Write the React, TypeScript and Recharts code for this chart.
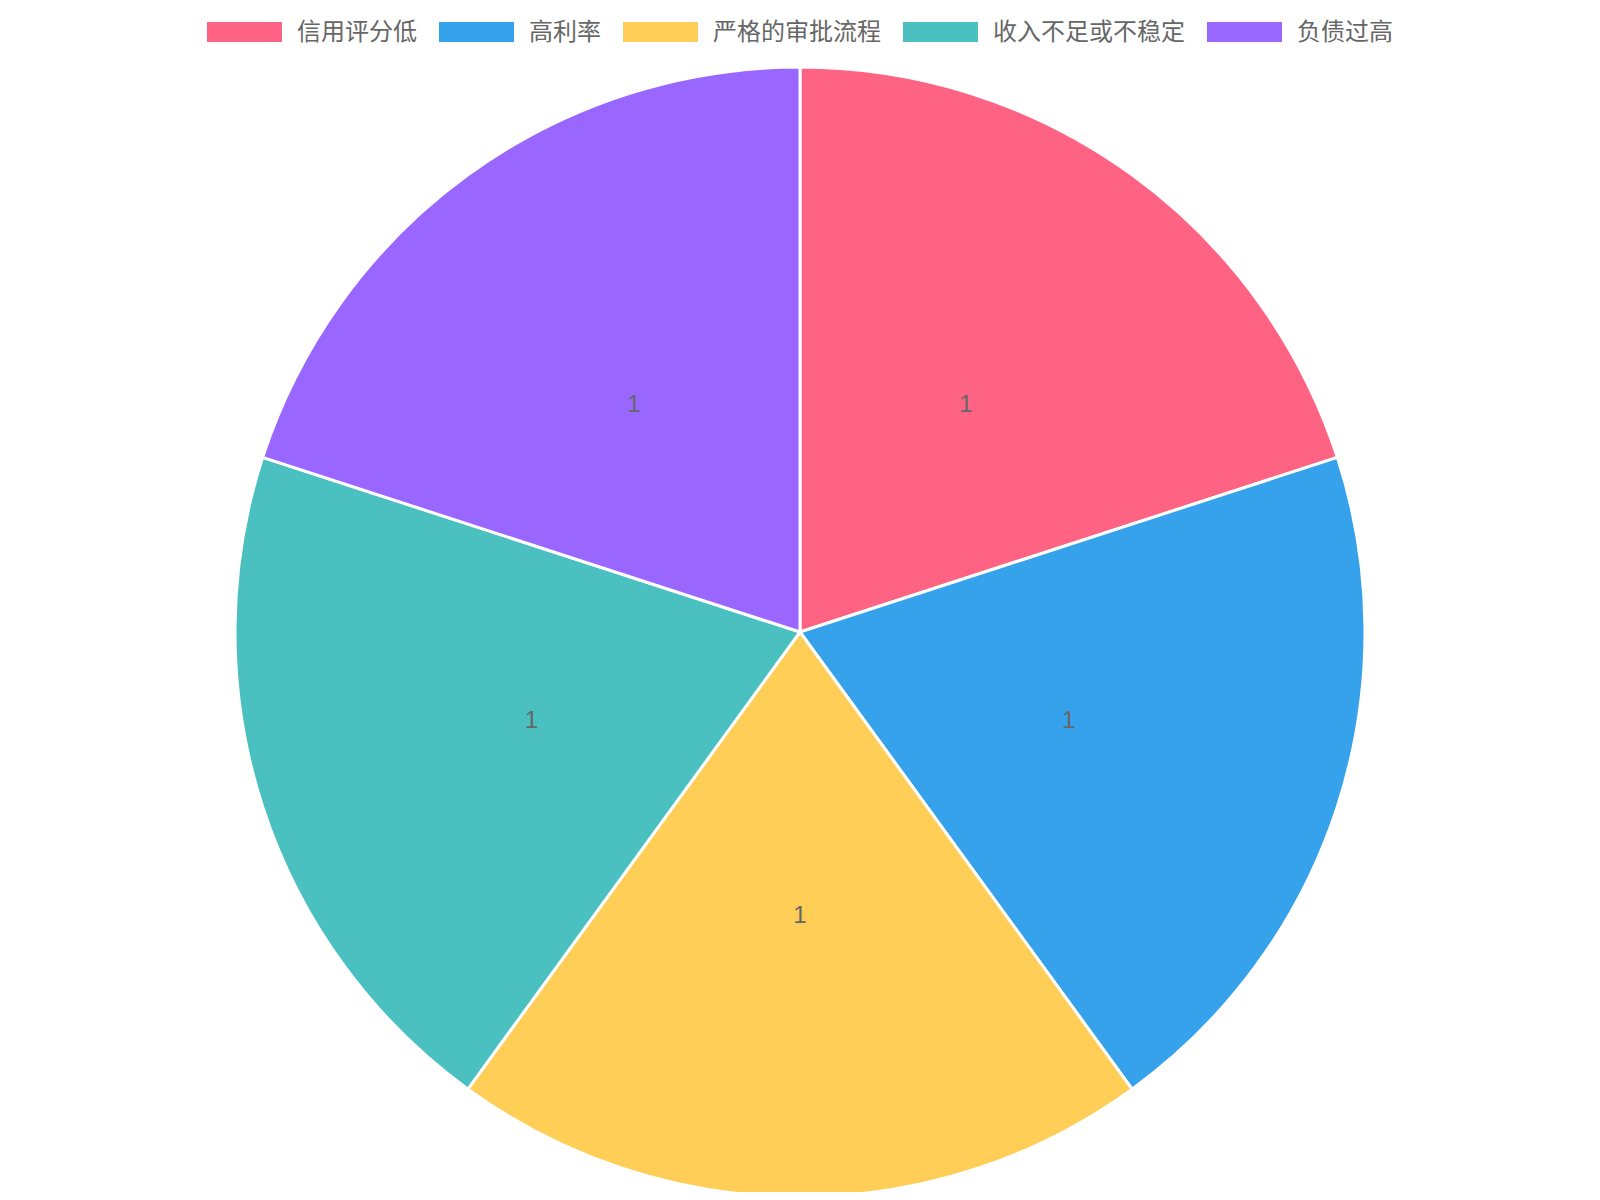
import React from "react";
import { PieChart, Pie, Cell } from "recharts";

const categories = ["信用评分低", "高利率", "严格的审批流程", "收入不足或不稳定", "负债过高"];
const values = [1, 1, 1, 1, 1];
const colors = ["#FF6384", "#36A2EB", "#FFCE56", "#4BC0C0", "#9966FF"];

const data = categories.map((name, i) => ({ name, value: values[i] }));

const FONT = "'Liberation Sans', Arial, 'Noto Sans CJK SC', sans-serif";
const RAD = Math.PI / 180;

const renderLabel = (props: any) => {
  const { cx, cy, midAngle, outerRadius, value } = props;
  const r = outerRadius / 2;
  const x = cx + r * Math.cos(-midAngle * RAD);
  const y = cy + r * Math.sin(-midAngle * RAD);
  return (
    <text
      x={x}
      y={y}
      fill="#666"
      fontSize={24}
      fontFamily={FONT}
      textAnchor="middle"
      dominantBaseline="central"
    >
      {value}
    </text>
  );
};

export default function App() {
  return (
    <div style={{ position: "relative", width: 1584, height: 1184, fontFamily: FONT }}>
      <div
        style={{
          position: "absolute",
          left: 0,
          top: 12,
          width: 1584,
          height: 24,
          display: "flex",
          justifyContent: "center",
          alignItems: "center",
        }}
      >
        {categories.map((c, i) => (
          <div
            key={c}
            style={{
              display: "flex",
              alignItems: "center",
              marginLeft: i === 0 ? 0 : 22,
            }}
          >
            <div style={{ width: 75, height: 20, background: colors[i], marginRight: 15 }} />
            <span style={{ fontSize: 24, lineHeight: "24px", color: "#666", whiteSpace: "nowrap" }}>{c}</span>
          </div>
        ))}
      </div>
      <PieChart
        width={1584}
        height={1184}
        margin={{ top: 0, right: 0, bottom: 0, left: 0 }}
        style={{ position: "absolute", left: 0, top: 0 }}
      >
        <Pie
          data={data}
          dataKey="value"
          nameKey="name"
          cx={792}
          cy={624}
          outerRadius={565}
          startAngle={90}
          endAngle={-270}
          stroke="#fff"
          strokeWidth={3}
          label={renderLabel}
          labelLine={false}
          isAnimationActive={false}
        >
          {data.map((d, i) => (
            <Cell key={d.name} fill={colors[i]} />
          ))}
        </Pie>
      </PieChart>
    </div>
  );
}
